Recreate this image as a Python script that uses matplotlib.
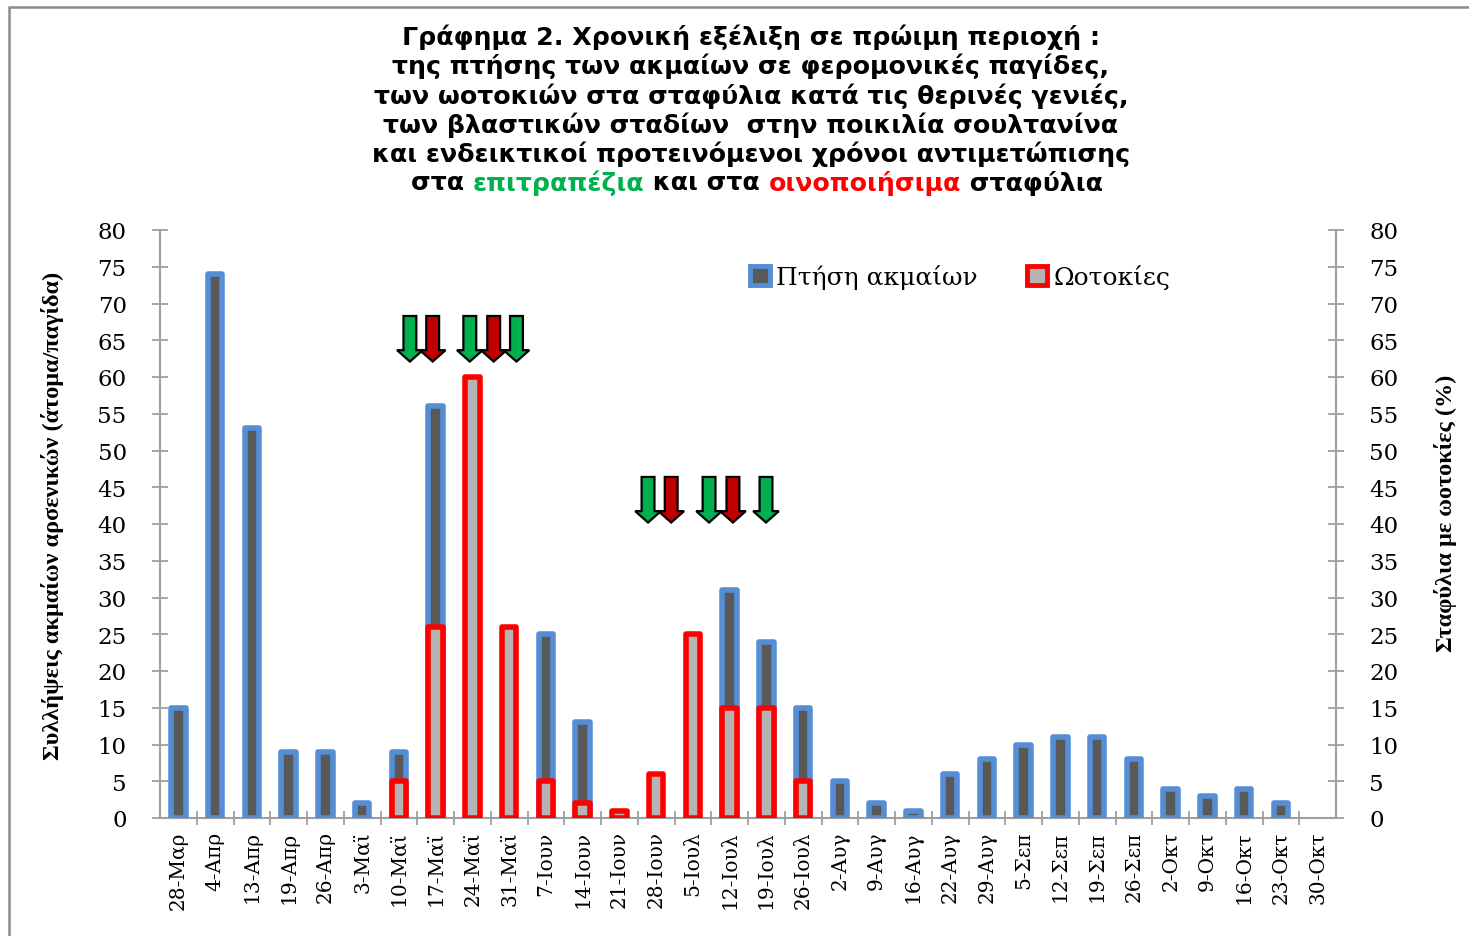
import matplotlib
matplotlib.use("Agg")
import matplotlib.pyplot as plt
import numpy as np
from matplotlib.patches import Polygon, Rectangle

# ---------------- data ----------------
dates = ["28-Μαρ", "4-Απρ", "13-Απρ", "19-Απρ", "26-Απρ", "3-Μαϊ", "10-Μαϊ", "17-Μαϊ",
         "24-Μαϊ", "31-Μαϊ", "7-Ιουν", "14-Ιουν", "21-Ιουν", "28-Ιουν", "5-Ιουλ", "12-Ιουλ",
         "19-Ιουλ", "26-Ιουλ", "2-Αυγ", "9-Αυγ", "16-Αυγ", "22-Αυγ", "29-Αυγ", "5-Σεπ",
         "12-Σεπ", "19-Σεπ", "26-Σεπ", "2-Οκτ", "9-Οκτ", "16-Οκτ", "23-Οκτ", "30-Οκτ"]
flight = [15, 74, 53, 9, 9, 2, 9, 56, 0, 0, 25, 13, 0, 0, 0, 31,
          24, 15, 5, 2, 1, 6, 8, 10, 11, 11, 8, 4, 3, 4, 2, 0]
oviposition = [0, 0, 0, 0, 0, 0, 5, 26, 60, 26, 5, 2, 1, 6, 25, 15,
               15, 5, 0, 0, 0, 0, 0, 0, 0, 0, 0, 0, 0, 0, 0, 0]
series_names = ["Πτήση ακμαίων", "Ωοτοκίες"]

# treatment arrows (annotation positions in category units / axis units)
arrow_x = [6.30, 6.92, 7.93, 8.58, 9.20, 12.78, 13.41, 14.44, 15.09, 15.99]
arrow_kind = ["g", "r", "g", "r", "g", "g", "r", "g", "r", "g"]
arrow_top = [68.3] * 5 + [46.4] * 5
arrow_len = 6.2

# ---------------- style ----------------
BLUE = "#558ED5"
DARK = "#595959"
RED = "#FF0000"
LIGHT = "#B4B4B4"
GREEN_A = "#00B050"
RED_A = "#C00000"
AXC = "#A0A0A0"

W, H = 1469, 937
fig = plt.figure(figsize=(W / 100, H / 100), dpi=100)

# outer border (partial frame visible in reference)
fig.add_artist(Rectangle((9 / W, -0.1), 1.2, 1.1 - 8 / H, transform=fig.transFigure,
                         fill=False, edgecolor="#8C8C8C", linewidth=1.8))

left, right = 160 / W, 1336 / W
bottom, top = 1 - 819 / H, 1 - 231 / H
ax = fig.add_axes([left, bottom, right - left, top - bottom])
ax2 = ax.twinx()

x = np.arange(len(dates))
bw = 0.40
lw = 4.0

fl = np.array(flight, dtype=float)
ov = np.array(oviposition, dtype=float)
mf = fl > 0
mo = ov > 0
b1 = ax.bar(x[mf], fl[mf], width=bw, color=DARK, edgecolor=BLUE, linewidth=lw, zorder=3)
b2 = ax2.bar(x[mo], ov[mo], width=bw, color=LIGHT, edgecolor=RED, linewidth=lw, zorder=3)
for p in list(b1) + list(b2):
    p.set_joinstyle("round")

for a in (ax, ax2):
    a.set_xlim(-0.5, len(dates) - 0.5)
    a.set_ylim(0, 80)
    a.set_yticks(np.arange(0, 81, 5))
    a.patch.set_visible(False)
    for s in a.spines.values():
        s.set_visible(False)

ax.spines["left"].set_visible(True)
ax.spines["bottom"].set_visible(True)
ax2.spines["right"].set_visible(True)
for s in (ax.spines["left"], ax.spines["bottom"], ax2.spines["right"]):
    s.set_color(AXC)
    s.set_linewidth(1.5)

ax.tick_params(axis="y", direction="inout", length=12, width=1.3, color=AXC, pad=18,
               labelsize=16.5, labelfontfamily="DejaVu Serif")
ax2.tick_params(axis="y", direction="inout", length=12, width=1.3, color=AXC, pad=18,
                labelsize=16.5, labelfontfamily="DejaVu Serif")
ax.set_xticks(x)
ax.set_xticklabels(dates, rotation=90, fontsize=14.5, family="DejaVu Serif", va="top")
ax.tick_params(axis="x", length=0, pad=9)
ax.set_xticks(np.arange(0.5, len(dates) - 1, 1), minor=True)
ax.tick_params(axis="x", which="minor", direction="inout", length=10, width=1.3, color=AXC)

ax.set_ylabel("Συλλήψεις ακμαίων αρσενικών (άτομα/παγίδα)", family="Liberation Serif",
              fontsize=17.5, fontweight="bold")
ax.yaxis.set_label_coords(-0.082, 0.515)
ax2.set_ylabel("Σταφύλια με ωοτοκίες (%)", family="Liberation Serif",
               fontsize=17.5, fontweight="bold")
ax2.yaxis.set_label_coords(1.083, 0.52)

# arrows
hw_shaft = 0.175
hw_head = 0.35
head_len = 1.55
for xc, kind, yt in zip(arrow_x, arrow_kind, arrow_top):
    yb = yt - arrow_len
    yh = yb + head_len
    verts = [(xc - hw_shaft, yt), (xc + hw_shaft, yt), (xc + hw_shaft, yh), (xc + hw_head, yh),
             (xc, yb), (xc - hw_head, yh), (xc - hw_shaft, yh)]
    ax2.add_patch(Polygon(verts, closed=True, facecolor=GREEN_A if kind == "g" else RED_A,
                          edgecolor="black", linewidth=1.6, joinstyle="miter", zorder=5))

# legend
h1 = Rectangle((0, 0), 1, 1, facecolor=DARK, edgecolor=BLUE, linewidth=3.5)
h2 = Rectangle((0, 0), 1, 1, facecolor=LIGHT, edgecolor=RED, linewidth=3.5)
leg = ax2.legend([h1, h2], series_names, loc="center", ncol=2, frameon=False,
                 bbox_to_anchor=(960 / W, 1 - 278 / H), bbox_transform=fig.transFigure,
                 prop=dict(family="DejaVu Serif", size=18), handlelength=0.8, handleheight=0.8,
                 handletextpad=0.25, columnspacing=2.0)

# title
tfont = dict(family="DejaVu Sans", fontweight="bold", fontsize=18.2)
title_lines = ["Γράφημα 2. Χρονική εξέλιξη σε πρώιμη περιοχή :",
               "της πτήσης των ακμαίων σε φερομονικές παγίδες,",
               "των ωοτοκιών στα σταφύλια κατά τις θερινές γενιές,",
               "των βλαστικών σταδίων  στην ποικιλία σουλτανίνα",
               "και ενδεικτικοί προτεινόμενοι χρόνοι αντιμετώπισης"]
ys = [37, 66, 96, 125, 154]
for t, yy in zip(title_lines, ys):
    fig.text(751 / W, 1 - yy / H, t, ha="center", va="center", **tfont)

parts = [("στα ", "black"), ("επιτραπέζια", GREEN_A), (" και στα ", "black"),
         ("οινοποιήσιμα", RED), (" σταφύλια", "black")]
renderer = fig.canvas.get_renderer()
objs = []
for s, c in parts:
    objs.append(fig.text(0, 1 - 183 / H, s, ha="left", va="center", color=c, **tfont))
widths = []
for s, c in parts:
    tmp = fig.text(0, 0, s.replace(" ", "\u00a0"), **tfont)
    widths.append(tmp.get_window_extent(renderer).width)
    tmp.remove()
total = sum(widths)
cur = 757 - total / 2
for o, w in zip(objs, widths):
    o.set_x(cur / W)
    cur += w

fig.savefig("out.png", dpi=100, facecolor="white")
